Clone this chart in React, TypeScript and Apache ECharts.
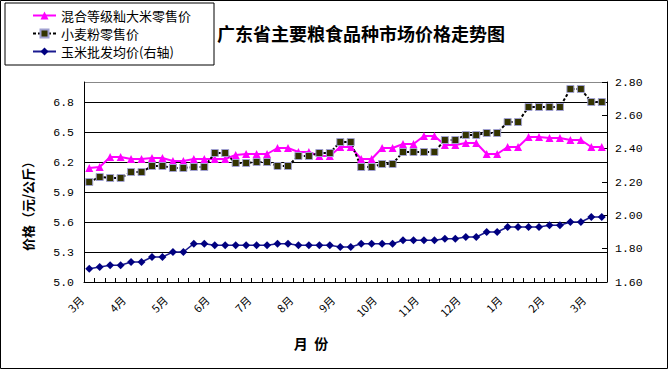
import React, { useEffect, useRef } from 'react';
import * as echarts from 'echarts';

const monthLabels = ['3月', '4月', '5月', '6月', '7月', '8月', '9月', '10月', '11月', '12月', '1月', '2月', '3月'];

const riceRetail = [
  6.14, 6.15, 6.25, 6.25, 6.23, 6.23, 6.24, 6.24, 6.21, 6.21,
  6.23, 6.23, 6.23, 6.23, 6.27, 6.28, 6.28, 6.28, 6.34, 6.34,
  6.30, 6.30, 6.26, 6.26, 6.35, 6.35, 6.23, 6.23, 6.34, 6.34,
  6.38, 6.38, 6.46, 6.46, 6.37, 6.37, 6.39, 6.39, 6.28, 6.28,
  6.35, 6.35, 6.45, 6.45, 6.44, 6.44, 6.42, 6.42, 6.35, 6.35,
];

const wheatFlourRetail = [
  6.00, 6.05, 6.04, 6.04, 6.10, 6.10, 6.16, 6.16, 6.14, 6.14,
  6.15, 6.15, 6.29, 6.29, 6.19, 6.19, 6.20, 6.20, 6.16, 6.16,
  6.26, 6.26, 6.29, 6.29, 6.40, 6.40, 6.15, 6.15, 6.18, 6.18,
  6.30, 6.30, 6.30, 6.30, 6.42, 6.42, 6.47, 6.47, 6.49, 6.49,
  6.60, 6.60, 6.75, 6.75, 6.75, 6.75, 6.93, 6.93, 6.80, 6.80,
];

const cornWholesale = [
  1.68, 1.69, 1.70, 1.70, 1.72, 1.72, 1.75, 1.75, 1.78, 1.78,
  1.83, 1.83, 1.82, 1.82, 1.82, 1.82, 1.82, 1.82, 1.83, 1.83,
  1.82, 1.82, 1.82, 1.82, 1.81, 1.81, 1.83, 1.83, 1.83, 1.83,
  1.85, 1.85, 1.85, 1.85, 1.86, 1.86, 1.87, 1.87, 1.90, 1.90,
  1.93, 1.93, 1.93, 1.93, 1.94, 1.94, 1.96, 1.96, 1.99, 1.99,
];

const seriesNames = ['混合等级籼大米零售价', '小麦粉零售价', '玉米批发均价(右轴)'];
const titleText = '广东省主要粮食品种市场价格走势图';
const yAxisTitle = '价格（元/公斤）';
const xAxisTitle = '月  份';

const CJK = '"Noto Sans CJK SC", "Noto Sans", sans-serif';
const MONO = '"Liberation Mono", "DejaVu Sans Mono", monospace';

export default function App() {
  const ref = useRef<HTMLDivElement>(null);

  useEffect(() => {
    if (!ref.current) return;
    const chart = echarts.init(ref.current, null, { renderer: 'svg' });
    const categories = riceRetail.map((_, i) => String(i));
    const option: any = {
      animation: false,
      backgroundColor: '#fff',
      title: {
        text: titleText,
        left: 217,
        top: 24,
        padding: 0,
        textStyle: { fontFamily: CJK, fontSize: 18, fontWeight: 'bold', color: '#000' },
      },
      legend: {
        orient: 'vertical',
        left: 5,
        top: 3,
        padding: [6, 23, 7, 27],
        itemGap: 5,
        itemWidth: 23,
        itemHeight: 10,
        borderColor: '#000',
        borderWidth: 1,
        backgroundColor: '#fff',
        textStyle: { fontFamily: CJK, fontSize: 13, color: '#000' },
        data: seriesNames,
      },
      grid: { left: 84, top: 82, width: 523, height: 200, containLabel: false },
      xAxis: {
        type: 'category',
        data: categories,
        boundaryGap: true,
        axisLine: { lineStyle: { color: '#000', width: 1 } },
        axisTick: { show: true, inside: true, length: 4, interval: 0, lineStyle: { color: '#000' } },
        axisLabel: {
          interval: 3,
          rotate: 45,
          margin: 8,
          padding: [0, 11, 0, 0],
          fontFamily: CJK,
          fontSize: 11,
          color: '#000',
          formatter: (v: string) => {
            const i = Number(v);
            return i % 4 === 0 ? monthLabels[i / 4] : '';
          },
        },
        splitLine: { show: false },
      },
      yAxis: [
        {
          type: 'value',
          position: 'left',
          min: 5,
          max: 7,
          interval: 0.3,
          axisLine: { show: true, lineStyle: { color: '#000' } },
          axisTick: { show: false },
          axisLabel: {
            margin: 10,
            showMaxLabel: false,
            fontFamily: MONO,
            fontSize: 11.5,
            color: '#000',
            formatter: (v: number) => v.toFixed(1),
          },
          splitLine: {
            show: true,
            lineStyle: {
              color: ['#000', '#000', '#000', '#000', '#000', '#000', '#000', '#888'],
              width: 1,
            },
          },
        },
        {
          type: 'value',
          position: 'right',
          min: 1.6,
          max: 2.8,
          interval: 0.2,
          axisLine: { show: true, lineStyle: { color: '#000' } },
          axisTick: { show: true, inside: true, length: 5, lineStyle: { color: '#000' } },
          axisLabel: {
            margin: 8,
            fontFamily: MONO,
            fontSize: 11.5,
            color: '#000',
            formatter: (v: number) => v.toFixed(2),
          },
          splitLine: { show: false },
        },
      ],
      series: [
        {
          name: seriesNames[0],
          type: 'line',
          yAxisIndex: 0,
          data: riceRetail,
          showSymbol: true,
          showAllSymbol: true,
          symbol: 'triangle',
          symbolSize: 8,
          itemStyle: { color: '#FF00FF' },
          lineStyle: { color: '#FF00FF', width: 2 },
        },
        {
          name: seriesNames[1],
          type: 'line',
          yAxisIndex: 0,
          data: wheatFlourRetail,
          showSymbol: true,
          showAllSymbol: true,
          symbol: 'rect',
          symbolSize: 7,
          itemStyle: { color: '#333300', borderColor: '#a0a0d0', borderWidth: 1 },
          lineStyle: { color: '#000', width: 2, type: [3, 2] },
        },
        {
          name: seriesNames[2],
          type: 'line',
          yAxisIndex: 1,
          data: cornWholesale,
          showSymbol: true,
          showAllSymbol: true,
          symbol: 'diamond',
          symbolSize: 8,
          itemStyle: { color: '#000080' },
          lineStyle: { color: '#1a1a90', width: 1.5 },
        },
      ],
      graphic: [
        {
          type: 'rect',
          silent: true,
          shape: { x: 0.5, y: 0.5, width: 667, height: 368 },
          style: { fill: 'none', stroke: '#000', lineWidth: 1 },
          z: -1,
        },
        {
          type: 'text',
          x: 27,
          y: 203,
          rotation: Math.PI / 2,
          style: {
            text: yAxisTitle,
            fontFamily: CJK,
            fontSize: 13,
            fontWeight: 'bold',
            fill: '#000',
            textAlign: 'center',
            textVerticalAlign: 'middle',
          },
        },
        {
          type: 'text',
          x: 311,
          y: 343,
          style: {
            text: xAxisTitle,
            fontFamily: CJK,
            fontSize: 14,
            fontWeight: 'bold',
            fill: '#000',
            textAlign: 'center',
            textVerticalAlign: 'middle',
          },
        },
      ],
    };
    chart.setOption(option);
    return () => chart.dispose();
  }, []);

  return (
    <div
      ref={ref}
      style={{ position: 'fixed', left: 0, top: 0, width: 669, height: 370 }}
    />
  );
}
